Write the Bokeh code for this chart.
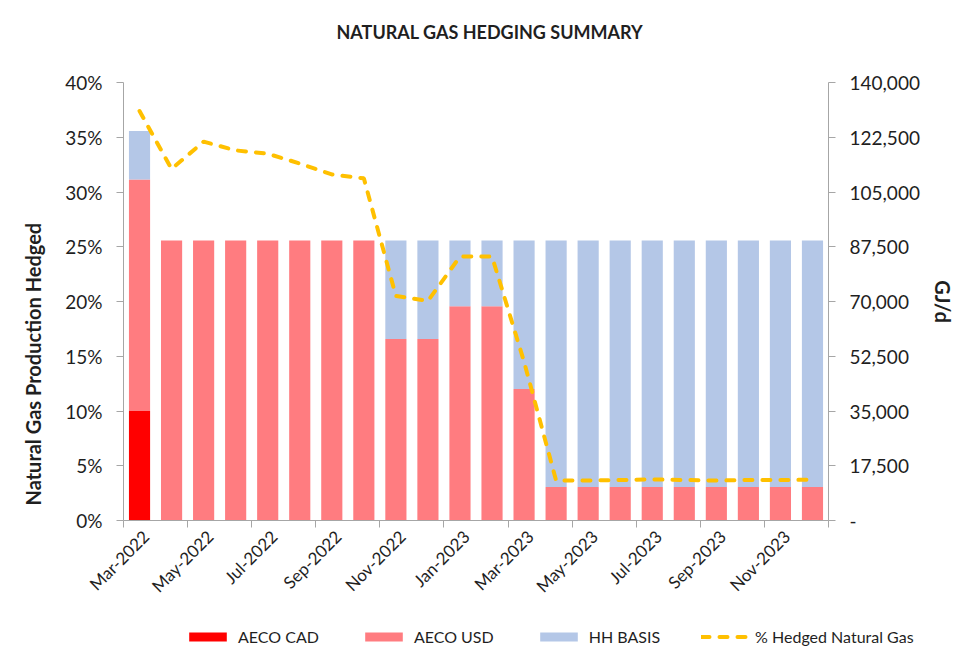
import math
from bokeh.plotting import figure
from bokeh.layouts import column
from bokeh.models import (ColumnDataSource, Range1d, LinearAxis, FixedTicker,
                          NumeralTickFormatter, Legend, LegendItem, Title)
from bokeh.embed import file_html
from bokeh.resources import INLINE

# ---------------- data ----------------
months = ["Mar-2022", "Apr-2022", "May-2022", "Jun-2022", "Jul-2022", "Aug-2022",
          "Sep-2022", "Oct-2022", "Nov-2022", "Dec-2022", "Jan-2023", "Feb-2023",
          "Mar-2023", "Apr-2023", "May-2023", "Jun-2023", "Jul-2023", "Aug-2023",
          "Sep-2023", "Oct-2023", "Nov-2023", "Dec-2023"]

# GJ/d (right axis)
aeco_cad = [35000, 0, 0, 0, 0, 0, 0, 0, 0, 0, 0, 0,
            0, 0, 0, 0, 0, 0, 0, 0, 0, 0]
aeco_usd = [74000, 89500, 89500, 89500, 89500, 89500, 89500, 89500, 58000, 58000, 68500, 68500,
            42000, 10700, 10700, 10700, 10700, 10700, 10700, 10700, 10700, 10700]
hh_basis = [15500, 0, 0, 0, 0, 0, 0, 0, 31500, 31500, 21000, 21000,
            47500, 78800, 78800, 78800, 78800, 78800, 78800, 78800, 78800, 78800]

# % hedged (left axis)
pct_hedged = [0.374, 0.321, 0.346, 0.338, 0.335, 0.326, 0.316, 0.3125, 0.205, 0.2005, 0.241, 0.241,
              0.145, 0.0365, 0.0365, 0.037, 0.0375, 0.037, 0.0365, 0.037, 0.037, 0.0372]

left_ticks = [0, 0.05, 0.10, 0.15, 0.20, 0.25, 0.30, 0.35, 0.40]
right_ticks = [0, 17500, 35000, 52500, 70000, 87500, 105000, 122500, 140000]

series_names = ["AECO CAD", "AECO USD", "HH BASIS", "% Hedged Natural Gas"]
series_colors = ["#FF0000", "#FF7C80", "#B4C7E7", "#FFC000"]
title_text = "NATURAL GAS HEDGING SUMMARY"
left_label = "Natural Gas Production Hedged"
right_label = "GJ/d"

# ---------------- style ----------------
FONT = "Lato"
TXT = "#1f1f1f"
AX = "#A6A6A6"
W, H, TOP_H, LEG_H = 957, 668, 60, 48
FRAME_TOP, FRAME_BOTTOM = 82, 520
BAR_W = 0.66
LINE_KW = dict(line_color=series_colors[3], line_width=4, line_dash="8 10", line_cap="round")


def strip(height):
    f = figure(width=W, height=height, output_backend="svg", toolbar_location=None,
               x_axis_type=None, y_axis_type=None,
               min_border=0, min_border_left=0, min_border_right=0,
               min_border_top=0, min_border_bottom=0,
               x_range=Range1d(-100, -50), y_range=Range1d(-2, -1),
               background_fill_color="white", border_fill_color="white")
    f.outline_line_color = None
    f.xgrid.visible = False
    f.ygrid.visible = False
    no_frame_align(f)
    return f


def no_frame_align(fig):
    if "frame_align" in fig.properties():
        fig.frame_align = False


idx = list(range(len(months)))
src = ColumnDataSource(dict(x=idx, cad=aeco_cad, usd=aeco_usd, hh=hh_basis, pct=pct_hedged))

# ---------------- title strip ----------------
pt = strip(TOP_H)
pt.title.text = title_text
pt.title.align = "left"
pt.title.offset = 336
pt.title.standoff = 36
pt.title.text_font = FONT
pt.title.text_font_style = "bold"
pt.title.text_font_size = "18px"
pt.title.text_color = TXT

# ---------------- main chart ----------------
MAIN_H = H - TOP_H - LEG_H
p = figure(width=W, height=MAIN_H, output_backend="svg", toolbar_location=None,
           x_range=Range1d(-0.5, len(months) - 0.5), y_range=Range1d(0, 0.40),
           min_border_left=123, min_border_right=123, min_border_top=FRAME_TOP - TOP_H,
           min_border_bottom=MAIN_H - (FRAME_BOTTOM - TOP_H),
           background_fill_color="white", border_fill_color="white")
no_frame_align(p)
p.outline_line_color = None
p.xgrid.visible = False
p.ygrid.visible = False

p.extra_y_ranges = {"gj": Range1d(0, 140000)}

bars = p.vbar_stack(["cad", "usd", "hh"], x="x", width=BAR_W, source=src,
                    color=series_colors[:3], line_color=None, y_range_name="gj")

line = p.line("x", "pct", source=src, **LINE_KW)

# left axis
ya = p.yaxis[0]
ya.ticker = FixedTicker(ticks=left_ticks)
ya.formatter = NumeralTickFormatter(format="0%")

# left axis title (placed like Excel: lower than centre)
ylab = Title(text=left_label, align="left", offset=15, standoff=36,
             text_font=FONT, text_font_style="bold", text_font_size="20px", text_color=TXT)
p.add_layout(ylab, "left")

# right axis
ra = LinearAxis(y_range_name="gj", ticker=FixedTicker(ticks=right_ticks),
                formatter=NumeralTickFormatter(format="0,0"),
                major_label_overrides={0: "  -"}, axis_label=right_label)
p.add_layout(ra, "right")

for ax in (ya, ra):
    ax.major_label_text_font_size = "19px"
    ax.axis_label_text_font_size = "20px"
    ax.major_label_standoff = 14
    ax.minor_tick_line_color = None
    ax.major_tick_in = 0
    ax.major_tick_out = 7
ra.axis_label_standoff = 8

# bottom axis: labels under every other bar, tick marks between bars
label_shift = 0.2
label_pos = [i + label_shift for i in idx[::2]]
xa = p.xaxis[0]
xa.ticker = FixedTicker(ticks=label_pos,
                        minor_ticks=[i - 0.5 for i in idx[::2]] + [len(months) - 0.5])
xa.major_label_overrides = {i + label_shift: months[i] for i in idx[::2]}
xa.major_label_orientation = math.pi / 4
xa.major_label_text_font_size = "17px"
xa.major_tick_in = 0
xa.major_tick_out = 0
xa.minor_tick_in = 0
xa.minor_tick_out = 7
xa.major_label_standoff = 6

for ax in (ya, ra, xa):
    ax.axis_line_color = AX
    ax.major_tick_line_color = AX
    if ax is xa:
        ax.minor_tick_line_color = AX
    ax.major_label_text_font = FONT
    ax.major_label_text_color = TXT
    ax.axis_label_text_font = FONT
    ax.axis_label_text_font_style = "bold"
    ax.axis_label_text_color = TXT

# ---------------- legend strip ----------------
# the same series drawn again into an off-screen range, only to feed the legend glyphs
pl = strip(LEG_H)
proxies = list(pl.vbar_stack(["cad", "usd", "hh"], x="x", width=BAR_W, source=src,
                             color=series_colors[:3], line_color=None))
proxies.append(pl.line("x", "pct", source=src, **LINE_KW))

legend = Legend(items=[LegendItem(label=n, renderers=[r]) for n, r in zip(series_names, proxies)],
                orientation="horizontal", location=(184, LEG_H - 16 - 10),
                glyph_width=47, glyph_height=11, label_standoff=7, spacing=41,
                padding=0, margin=0, border_line_color=None, background_fill_alpha=0,
                label_height=20, label_text_font=FONT, label_text_font_size="16px",
                label_text_color=TXT)
pl.add_layout(legend)

layout = column(pt, p, pl, spacing=0)
open("out.html", "w").write(file_html(layout, INLINE))
